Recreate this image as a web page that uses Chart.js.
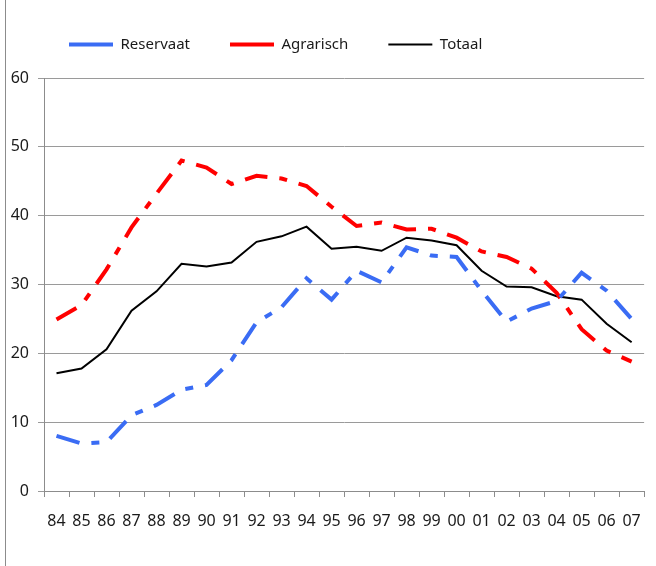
<!DOCTYPE html>
<html>
<head>
<meta charset="utf-8">
<script src="https://cdn.jsdelivr.net/npm/chart.js@4/dist/chart.umd.min.js"></script>
<style>
  html, body { margin: 0; padding: 0; background: #fff; }
  #wrap { position: relative; width: 656px; height: 566px; }
  #frame { position: absolute; left: 5px; top: 0; width: 1px; height: 566px; background: #8c8c8c; }
</style>
</head>
<body>
<div id="wrap">
  <div id="frame"></div>
  <canvas id="chart" width="656" height="566"></canvas>
</div>
<script>
const years = ["84", "85", "86", "87", "88", "89", "90", "91", "92", "93", "94", "95",
  "96", "97", "98", "99", "00", "01", "02", "03", "04", "05", "06", "07"];

const reservaat = [8.0, 6.9, 7.1, 11.0, 12.5, 14.7, 15.4, 19.0, 24.5, 26.7, 30.9, 27.8,
  32.0, 30.3, 35.4, 34.2, 34.0, 29.1, 24.6, 26.5, 27.6, 31.7, 29.1, 25.0];

const agrarisch = [24.9, 27.0, 32.2, 38.3, 43.2, 48.0, 47.0, 44.6, 45.8, 45.4, 44.3, 41.3,
  38.5, 39.0, 38.0, 38.1, 36.8, 34.8, 34.0, 32.3, 28.8, 23.5, 20.4, 18.8];

const totaal = [17.1, 17.8, 20.6, 26.2, 29.0, 33.0, 32.6, 33.2, 36.2, 37.0, 38.4, 35.2,
  35.5, 34.9, 36.8, 36.4, 35.7, 32.0, 29.7, 29.6, 28.3, 27.8, 24.3, 21.6];

const yTicks = [0, 10, 20, 30, 40, 50, 60];

// the legend sits higher and further left than chart.js would put it
const moveLegend = {
  id: "moveLegend",
  afterLayout(chart) {
    chart.legend.left = 29;
    chart.legend.top = -3;
  },
};

const ctx = document.getElementById("chart").getContext("2d");
new Chart(ctx, {
  type: "line",
  data: {
    labels: years,
    datasets: [
      {
        label: "Reservaat",
        data: reservaat,
        borderColor: "#3a6cf4",
        backgroundColor: "#3a6cf4",
        borderWidth: 4,
        borderDash: [24, 12, 8, 12],
        pointRadius: 0,
        tension: 0,
      },
      {
        label: "Agrarisch",
        data: agrarisch,
        borderColor: "#ff0000",
        backgroundColor: "#ff0000",
        borderWidth: 4,
        borderDash: [23, 12, 8, 12],
        pointRadius: 0,
        tension: 0,
      },
      {
        label: "Totaal",
        data: totaal,
        borderColor: "#000000",
        backgroundColor: "#000000",
        borderWidth: 2,
        pointRadius: 0,
        tension: 0,
      },
    ],
  },
  plugins: [moveLegend],
  options: {
    responsive: false,
    animation: false,
    layout: { padding: { top: 13, right: 11, bottom: 31, left: 0 } },
    plugins: {
      tooltip: { enabled: false },
      legend: {
        position: "top",
        align: "start",
        labels: {
          usePointStyle: true,
          pointStyle: "line",
          pointStyleWidth: 44,
          boxHeight: 14,
          padding: 40,
          color: "#1a1a1a",
          font: { family: "'Noto Sans', sans-serif", size: 15 },
        },
      },
    },
    scales: {
      x: {
        type: "category",
        offset: true,
        grid: {
          offset: true,
          drawOnChartArea: false,
          drawTicks: true,
          tickLength: 6,
          color: "#8c8c8c",
        },
        border: { color: "#8c8c8c" },
        ticks: {
          color: "#1a1a1a",
          padding: 15,
          maxRotation: 0,
          autoSkip: false,
          font: { family: "'Noto Sans', sans-serif", size: 16 },
        },
        afterFit: (scale) => { scale.height = 44; },
      },
      y: {
        min: 0,
        max: 60,
        afterBuildTicks: (scale) => { scale.ticks = yTicks.map((v) => ({ value: v })); },
        grid: { color: "#9a9a9a", tickLength: 6 },
        border: { color: "#8c8c8c" },
        ticks: {
          color: "#1a1a1a",
          padding: 9,
          font: { family: "'Noto Sans', sans-serif", size: 16 },
        },
        afterFit: (scale) => { scale.width = 44; },
      },
    },
  },
});
</script>
</body>
</html>
